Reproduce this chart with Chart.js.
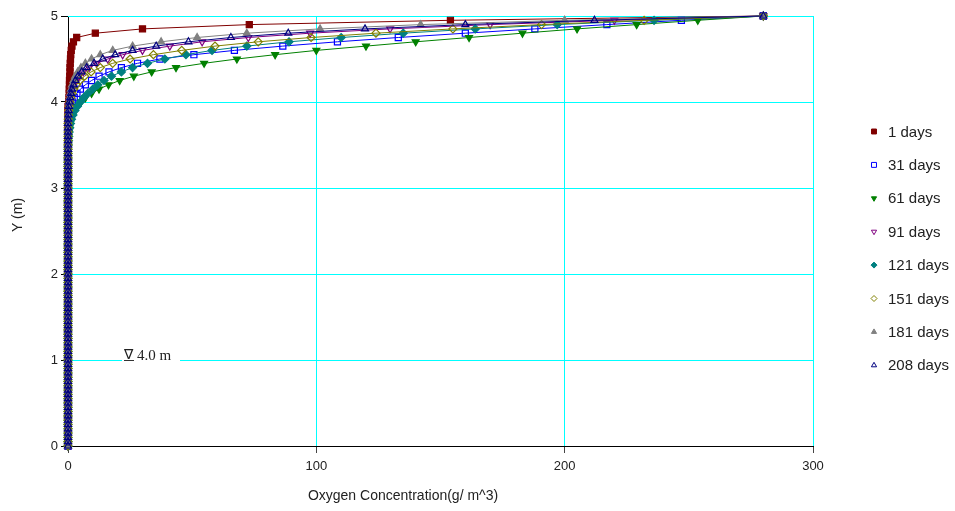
<!DOCTYPE html>
<html>
<head>
<meta charset="utf-8">
<title>Oxygen Concentration Profiles</title>
<script src="https://cdn.jsdelivr.net/npm/chart.js@4.4.1/dist/chart.umd.min.js"></script>
<style>
  body { margin: 0; background: #fff; }
  #wrap { width: 955px; height: 511px; }
</style>
</head>
<body>
<div id="wrap"><canvas id="oxygenChart" width="955" height="511"></canvas></div>
<script>
// Depth levels Y (m), shared by every profile
const levels = [
  0, 0.05, 0.1, 0.15, 0.2, 0.25, 0.3, 0.35, 0.4, 0.45,
  0.5, 0.55, 0.6, 0.65, 0.7, 0.75, 0.8, 0.85, 0.9, 0.95,
  1, 1.05, 1.1, 1.15, 1.2, 1.25, 1.3, 1.35, 1.4, 1.45,
  1.5, 1.55, 1.6, 1.65, 1.7, 1.75, 1.8, 1.85, 1.9, 1.95,
  2, 2.05, 2.1, 2.15, 2.2, 2.25, 2.3, 2.35, 2.4, 2.45,
  2.5, 2.55, 2.6, 2.65, 2.7, 2.75, 2.8, 2.85, 2.9, 2.95,
  3, 3.05, 3.1, 3.15, 3.2, 3.25, 3.3, 3.35, 3.4, 3.45,
  3.5, 3.55, 3.6, 3.65, 3.7, 3.75, 3.8, 3.85, 3.9, 3.95,
  4, 4.05, 4.1, 4.15, 4.2, 4.25, 4.3, 4.35, 4.4, 4.45,
  4.5, 4.55, 4.6, 4.65, 4.7, 4.75, 4.8, 4.85, 4.9, 4.95,
  5
];

const seriesNames = ['1 days', '31 days', '61 days', '91 days', '121 days', '151 days', '181 days', '208 days'];

// Oxygen concentration (g/m^3) at each level
const day1 = [
  0, 0, 0, 0, 0, 0, 0, 0, 0, 0,  0, 0, 0, 0, 0, 0, 0, 0, 0, 0,
  0, 0, 0, 0, 0, 0, 0, 0, 0, 0,  0, 0, 0, 0, 0, 0, 0, 0, 0, 0,
  0, 0, 0, 0, 0, 0, 0, 0, 0, 0,  0, 0, 0, 0, 0, 0, 0, 0, 0, 0,
  0, 0, 0, 0, 0, 0, 0, 0, 0, 0,
  0, 0, 0, 0, 0, 0, 0, 0, 0, 0,
  0.3, 0.4, 0.5, 0.5, 0.6, 0.6, 0.7, 0.8, 0.8, 0.9,
  1.0, 1.1, 1.3, 1.6, 2.2, 3.5, 11, 30, 73, 154,
  280
];
const day31 = [
  0, 0, 0, 0, 0, 0, 0, 0, 0, 0,  0, 0, 0, 0, 0, 0, 0, 0, 0, 0,
  0, 0, 0, 0, 0, 0, 0, 0, 0, 0,  0, 0, 0, 0, 0, 0, 0, 0, 0, 0,
  0, 0, 0, 0, 0, 0, 0, 0, 0, 0,  0, 0, 0, 0, 0, 0, 0, 0, 0, 0,
  0, 0, 0, 0, 0, 0, 0, 0, 0, 0,
  0, 0, 0, 0, 0.1, 0.2, 0.3, 0.45, 0.7, 1.1,
  1.7, 2.5, 3.6, 5, 7, 9.5, 12.5, 16.5, 21.5, 28,
  37, 50.7, 67, 86.5, 108.5, 133, 160, 188, 217, 247,
  280
];
const day61 = [
  0, 0, 0, 0, 0, 0, 0, 0, 0, 0,  0, 0, 0, 0, 0, 0, 0, 0, 0, 0,
  0, 0, 0, 0, 0, 0, 0, 0, 0, 0,  0, 0, 0, 0, 0, 0, 0, 0, 0, 0,
  0, 0, 0, 0, 0, 0, 0, 0, 0, 0,  0, 0, 0, 0, 0, 0, 0, 0, 0, 0,
  0, 0, 0, 0, 0, 0, 0, 0, 0, 0,
  0.1, 0.15, 0.25, 0.4, 0.6, 0.9, 1.3, 1.9, 2.7, 3.8,
  5.2, 7, 9.5, 12.5, 16.3, 20.8, 26.5, 33.7, 43.5, 54.8,
  68, 83.4, 100, 120, 140, 161.5, 183, 205, 229, 253.6,
  280
];
const day91 = [
  0, 0, 0, 0, 0, 0, 0, 0, 0, 0,  0, 0, 0, 0, 0, 0, 0, 0, 0, 0,
  0, 0, 0, 0, 0, 0, 0, 0, 0, 0,  0, 0, 0, 0, 0, 0, 0, 0, 0, 0,
  0, 0, 0, 0, 0, 0, 0, 0, 0, 0,  0, 0, 0, 0, 0, 0, 0, 0, 0, 0,
  0, 0, 0, 0, 0, 0, 0, 0, 0, 0,
  0, 0, 0, 0, 0, 0, 0.1, 0.2, 0.3, 0.4,
  0.6, 0.9, 1.3, 1.8, 2.4, 3.3, 4.5, 6.2, 8.5, 11.5,
  16, 22, 30, 41, 54, 72.6, 97.5, 129.7, 170, 220,
  280
];
const day121 = [
  0, 0, 0, 0, 0, 0, 0, 0, 0, 0,  0, 0, 0, 0, 0, 0, 0, 0, 0, 0,
  0, 0, 0, 0, 0, 0, 0, 0, 0, 0,  0, 0, 0, 0, 0, 0, 0, 0, 0, 0,
  0, 0, 0, 0, 0, 0, 0, 0, 0, 0,  0, 0, 0, 0, 0, 0, 0, 0, 0, 0,
  0, 0, 0, 0, 0, 0, 0, 0, 0, 0,
  0.1, 0.2, 0.3, 0.45, 0.7, 1, 1.4, 2, 2.8, 3.8,
  5, 6.3, 8, 10, 12, 14.5, 17.5, 21.5, 26, 32,
  39, 47.5, 58, 72, 89, 110, 135, 164, 197, 236,
  280
];
const day151 = [
  0, 0, 0, 0, 0, 0, 0, 0, 0, 0,  0, 0, 0, 0, 0, 0, 0, 0, 0, 0,
  0, 0, 0, 0, 0, 0, 0, 0, 0, 0,  0, 0, 0, 0, 0, 0, 0, 0, 0, 0,
  0, 0, 0, 0, 0, 0, 0, 0, 0, 0,  0, 0, 0, 0, 0, 0, 0, 0, 0, 0,
  0, 0, 0, 0, 0, 0, 0, 0, 0, 0,
  0, 0, 0, 0, 0, 0, 0.1, 0.2, 0.35, 0.55,
  0.8, 1.2, 1.7, 2.4, 3.4, 4.8, 6.7, 9.3, 13, 18,
  25, 34.4, 45.8, 59.2, 76.6, 97.9, 124, 155, 190.7, 232,
  280
];
const day181 = [
  0, 0, 0, 0, 0, 0, 0, 0, 0, 0,  0, 0, 0, 0, 0, 0, 0, 0, 0, 0,
  0, 0, 0, 0, 0, 0, 0, 0, 0, 0,  0, 0, 0, 0, 0, 0, 0, 0, 0, 0,
  0, 0, 0, 0, 0, 0, 0, 0, 0, 0,  0, 0, 0, 0, 0, 0, 0, 0, 0, 0,
  0, 0, 0, 0, 0, 0, 0, 0, 0, 0,
  0, 0, 0, 0, 0, 0, 0.1, 0.15, 0.25, 0.35,
  0.5, 0.7, 0.9, 1.2, 1.6, 2.2, 2.9, 3.9, 5.2, 7,
  9.5, 13, 18, 26, 37.5, 52, 72, 101.5, 142, 200,
  280
];
const day208 = [
  0, 0, 0, 0, 0, 0, 0, 0, 0, 0,  0, 0, 0, 0, 0, 0, 0, 0, 0, 0,
  0, 0, 0, 0, 0, 0, 0, 0, 0, 0,  0, 0, 0, 0, 0, 0, 0, 0, 0, 0,
  0, 0, 0, 0, 0, 0, 0, 0, 0, 0,  0, 0, 0, 0, 0, 0, 0, 0, 0, 0,
  0, 0, 0, 0, 0, 0, 0, 0, 0, 0,
  0, 0, 0, 0, 0, 0, 0.1, 0.2, 0.3, 0.4,
  0.6, 0.9, 1.2, 1.6, 2.2, 3, 4, 5.5, 7.5, 10.5,
  14, 19, 26, 35.5, 48.5, 65.6, 88.7, 119.6, 160, 212,
  280
];

const xTicks = [0, 100, 200, 300];
const yTicks = [0, 1, 2, 3, 4, 5];
const waterTable = 1;      // level of the water table mark
const waterTableText = '4.0 m';

const profiles = [day1, day31, day61, day91, day121, day151, day181, day208];

// marker look for each profile
const colors = ['#800000', '#0000ff', '#008000', '#800080', '#008080', '#808000', '#808080', '#000080'];
const shapes = ['rect', 'rect', 'triangle', 'triangle', 'rectRot', 'rectRot', 'triangle', 'triangle'];
const rotations = [0, 0, 180, 180, 0, 0, 0, 0];
const filled = [true, false, true, false, true, false, true, false];

const FONT = '"Liberation Sans", Arial, sans-serif';
const GRID = '#00ffff';

const datasets = profiles.map((vals, i) => ({
  label: seriesNames[i],
  data: levels.map((y, k) => ({ x: vals[k], y: y })),
  borderColor: colors[i],
  borderWidth: 1,
  pointStyle: shapes[i],
  pointRotation: rotations[i],
  pointRadius: shapes[i] === 'rect' ? 4.3 : 4,
  pointBorderWidth: 1.2,
  pointBorderColor: colors[i],
  pointBackgroundColor: filled[i] ? colors[i] : 'rgba(255,255,255,0)',
  tension: 0,
  clip: false,
  order: profiles.length - 1 - i
}));

// horizontal grid lines, drawn under the profiles
const hGrid = {
  id: 'hGrid',
  beforeDatasetsDraw(chart) {
    const c = chart.ctx;
    const { left, right } = chart.chartArea;
    c.save();
    c.strokeStyle = GRID;
    c.lineWidth = 1;
    yTicks.forEach(v => {
      if (v === yTicks[0]) return;
      const py = Math.round(chart.scales.y.getPixelForValue(v)) + 0.5;
      c.beginPath();
      c.moveTo(left, py);
      c.lineTo(right + 1, py);
      c.stroke();
    });
    c.restore();
  }
};

// legend, axis titles and the water table mark
const extras = {
  id: 'extras',
  afterDraw(chart) {
    const c = chart.ctx;
    const xs = chart.scales.x, ys = chart.scales.y;
    c.save();

    // water table mark sitting on the y = 1 grid line
    const wy = Math.round(ys.getPixelForValue(waterTable)) + 0.5;
    const wx = Math.round(xs.getPixelForValue(21.6));
    c.fillStyle = '#fff';
    c.fillRect(wx, wy - 2, 58, 4);
    c.strokeStyle = '#333';
    c.lineWidth = 1;
    c.beginPath();
    c.moveTo(wx + 2, wy);
    c.lineTo(wx + 12, wy);
    c.stroke();
    c.fillStyle = '#222';
    c.textAlign = 'left';
    c.textBaseline = 'alphabetic';
    c.font = '14px "Liberation Serif", "Times New Roman", serif';
    c.fillText('\u2207', wx + 2, wy - 1.5);
    c.font = '15px "Liberation Serif", "Times New Roman", serif';
    c.fillText(waterTableText, wx + 15, wy - 0.5);

    // axis titles
    c.fillStyle = '#222';
    c.font = '14px ' + FONT;
    c.textAlign = 'center';
    c.textBaseline = 'middle';
    c.fillText('Oxygen Concentration(g/ m^3)', 403, 496);
    c.save();
    c.translate(18, 215);
    c.rotate(-Math.PI / 2);
    c.fillText('Y (m)', 0, 0);
    c.restore();

    // legend
    c.font = '15px ' + FONT;
    c.textAlign = 'left';
    chart.data.datasets.forEach((ds, i) => {
      const ly = 131.5 + i * 33.4;
      c.fillStyle = filled[i] ? colors[i] : 'rgba(255,255,255,0)';
      c.strokeStyle = colors[i];
      c.lineWidth = 1;
      Chart.helpers.drawPoint(c, {
        pointStyle: shapes[i],
        rotation: rotations[i],
        radius: shapes[i] === 'rect' ? 3.5 : 3,
        borderWidth: 1
      }, 874, ly);
      c.fillStyle = '#222';
      c.fillText(ds.label, 888, ly + 1);
    });
    c.restore();
  }
};

const axisTicks = {
  color: '#222',
  font: { family: FONT, size: 13 }
};

const chart = new Chart(document.getElementById('oxygenChart'), {
  type: 'line',
  data: { datasets: datasets },
  options: {
    responsive: false,
    animation: false,
    layout: { padding: { top: 16, right: 142, left: 0, bottom: 0 } },
    plugins: {
      legend: { display: false },
      tooltip: { enabled: false }
    },
    scales: {
      x: {
        type: 'linear',
        min: xTicks[0],
        max: xTicks[xTicks.length - 1],
        afterBuildTicks: s => { s.ticks = xTicks.map(v => ({ value: v })); },
        ticks: Object.assign({ padding: 6, maxRotation: 0 }, axisTicks),
        grid: { color: GRID, tickColor: '#444', tickLength: 7, lineWidth: 1 },
        border: { color: '#000', width: 1 },
        afterFit: s => { s.height = 65; }
      },
      y: {
        type: 'linear',
        min: yTicks[0],
        max: yTicks[yTicks.length - 1],
        afterBuildTicks: s => { s.ticks = yTicks.map(v => ({ value: v })); },
        ticks: Object.assign({ padding: 3 }, axisTicks),
        grid: { drawOnChartArea: false, tickColor: '#000', tickLength: 7, lineWidth: 1 },
        border: { color: '#000', width: 1 },
        afterFit: s => { s.width = 68; }
      }
    }
  },
  plugins: [hGrid, extras]
});
</script>
</body>
</html>
